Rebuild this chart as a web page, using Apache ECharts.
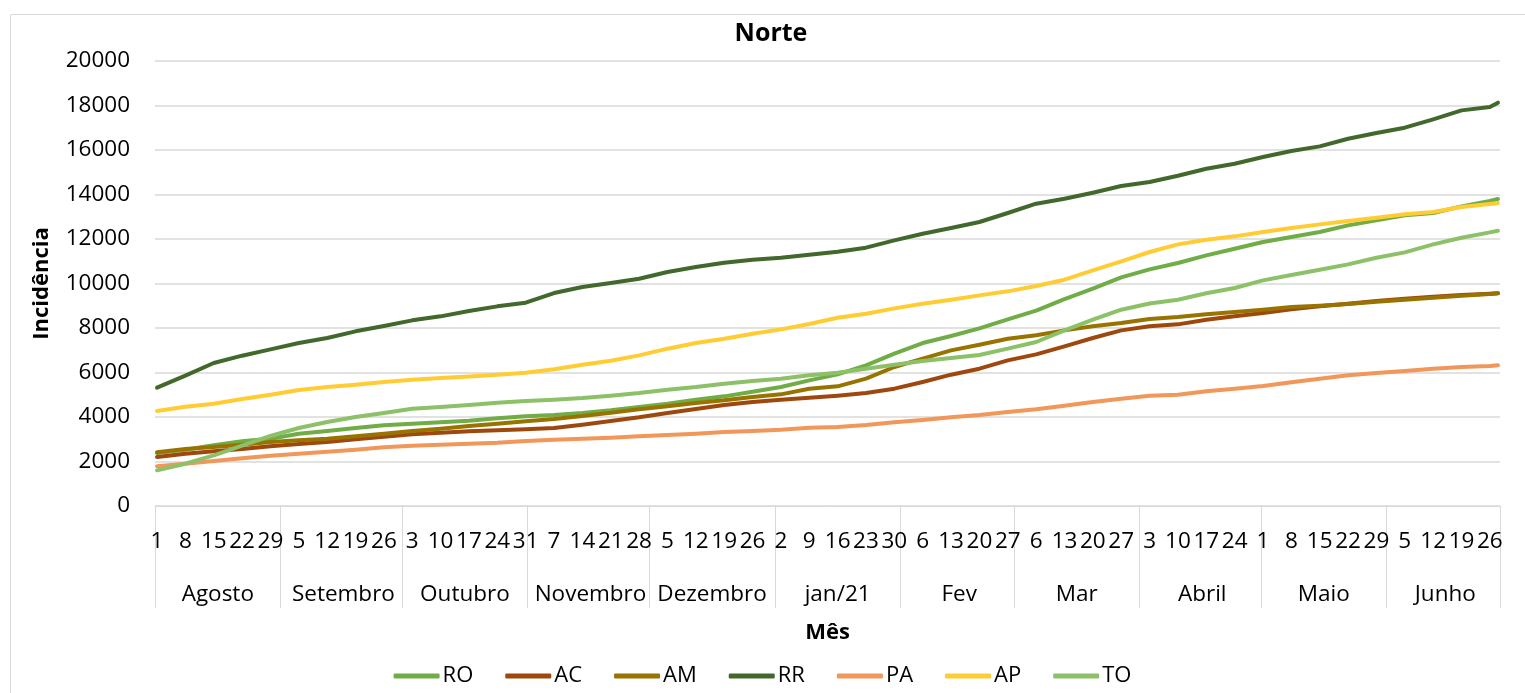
<!DOCTYPE html>
<html><head><meta charset="utf-8">
<script src="https://cdn.jsdelivr.net/npm/echarts@6/dist/echarts.min.js"></script>
<style>html,body{margin:0;padding:0;background:#fff}#chart{width:1525px;height:693px}</style>
</head><body><div id="chart"></div>
<script>
// Months on the axis (data runs 1 Aug 2020 .. 28 Jun 2021, daily categories)
const monthNames = ['Agosto','Setembro','Outubro','Novembro','Dezembro','jan/21','Fev','Mar','Abril','Maio','Junho'];
const monthYears = [2020,2020,2020,2020,2020,2021,2021,2021,2021,2021,2021];
const monthNums  = [8,9,10,11,12,1,2,3,4,5,6];
const monthDays  = [31,30,31,30,31,31,28,31,30,31,28];

const seriesNames  = ['RO','AC','AM','RR','PA','AP','TO'];
const seriesColors = ['#70AD47','#9E480E','#997300','#43682B','#F1975A','#FFCD33','#8CC168'];

// Values read weekly (every 7th day from 1 Aug) plus the last day
const RO = [2382,2532,2726,2906,3026,3251,3370,3505,3625,3700,3760,3835,
            3940,4030,4090,4179,4299,4449,4599,4779,4928,5138,5348,5647,
            5917,6322,6846,7325,7640,7984,8389,8778,9302,9767,10276,10636,
            10920,11265,11565,11864,12089,12314,12613,12838,13063,13168,13467,13707,13796];
const AC = [2202,2352,2457,2562,2681,2786,2876,2996,3116,3221,3296,3356,
            3400,3445,3505,3655,3820,3985,4179,4359,4539,4674,4779,4860,
            4960,5080,5273,5573,5902,6172,6546,6816,7175,7550,7894,8074,
            8164,8374,8524,8673,8838,8973,9093,9213,9318,9407,9482,9542,9557];
const AM = [2412,2562,2651,2756,2876,2951,3026,3131,3251,3370,3475,3595,
            3700,3805,3910,4045,4194,4344,4479,4629,4749,4898,5018,5273,
            5378,5722,6247,6621,6996,7250,7520,7670,7894,8074,8224,8404,
            8494,8614,8718,8823,8943,9003,9078,9183,9273,9363,9452,9527,9557];
const RR = [5318,5857,6426,6756,7041,7325,7550,7850,8089,8344,8524,8763,
            8973,9138,9572,9842,10022,10216,10516,10741,10935,11070,11160,11295,
            11430,11610,11939,12239,12494,12763,13168,13587,13812,14082,14381,14561,
            14845,15160,15385,15684,15954,16163,16508,16763,17003,17377,17781,17931,18126];
const PA = [1783,1902,2022,2142,2262,2352,2442,2532,2636,2711,2756,2801,
            2846,2921,2981,3026,3071,3131,3191,3251,3326,3370,3430,3520,
            3550,3640,3760,3865,3985,4090,4224,4344,4509,4674,4824,4958,
            5003,5153,5273,5393,5558,5722,5872,5977,6067,6172,6247,6292,6322];
const AP = [4269,4464,4599,4809,5003,5213,5348,5453,5573,5677,5752,5820,
            5900,5992,6142,6352,6531,6771,7071,7325,7520,7745,7939,8179,
            8464,8644,8883,9093,9273,9467,9647,9887,10171,10591,10995,11415,
            11759,11969,12119,12314,12494,12658,12808,12958,13108,13213,13438,13572,13617];
const TO = [1603,1902,2277,2711,3146,3505,3775,4000,4179,4374,4449,4539,
            4644,4719,4779,4854,4958,5078,5228,5348,5498,5618,5722,5872,
            5992,6172,6352,6516,6651,6786,7071,7370,7894,8374,8823,9100,
            9273,9560,9800,10141,10381,10621,10860,11160,11400,11760,12059,12298,12374];
const seriesValues = [RO, AC, AM, RR, PA, AP, TO];

const yTicks = {min: 0, max: 20000, interval: 2000};

// build daily categories
const days = [], dayMonth = [], monthStart = [];
monthDays.forEach((n, m) => {
  monthStart.push(days.length);
  for (let d = 1; d <= n; d++) {
    days.push(monthYears[m] + '-' + String(monthNums[m]).padStart(2,'0') + '-' + String(d).padStart(2,'0'));
    dayMonth.push(m);
  }
});
const monthMid = monthStart.map((s, m) => s + Math.floor(monthDays[m] / 2));
const sampleDates = days.filter((_, i) => i % 7 === 0 || i === days.length - 1);

const FONT = '"Open Sans", "Noto Sans", sans-serif';
const chart = echarts.init(document.getElementById('chart'));
chart.setOption({
  animation: false,
  backgroundColor: '#fff',
  textStyle: {fontFamily: FONT},
  title: {text: 'Norte', left: 771, top: 21, textAlign: 'center', padding: 0,
          textStyle: {fontFamily: FONT, fontSize: 25, fontWeight: 'bold', color: '#000'}},
  graphic: [{type: 'rect', left: 8, top: 12, silent: true,
             shape: {width: 1540, height: 700},
             style: {fill: 'none', stroke: '#d9d9d9', lineWidth: 1}}],
  grid: {left: 155, right: 25, top: 61, bottom: 187, containLabel: false},
  legend: {
    data: seriesNames, left: 'center', top: 660, icon: 'roundRect',
    itemWidth: 46, itemHeight: 5, itemGap: 32,
    textStyle: {fontFamily: FONT, fontSize: 22, color: '#000', padding: [0,0,0,-2]}
  },
  xAxis: [{
    type: 'category', data: days, boundaryGap: true, position: 'bottom',
    axisLine: {lineStyle: {color: '#d9d9d9', width: 1}},
    axisTick: {show: false},
    axisLabel: {interval: 6, margin: 24, fontSize: 22.5, color: '#000', fontFamily: FONT,
                formatter: v => String(parseInt(v.slice(8), 10))},
    splitLine: {show: false}
  }, {
    type: 'category', data: days, boundaryGap: true, position: 'bottom', offset: 0,
    axisLine: {show: false},
    axisTick: {show: true, length: 102, lineStyle: {color: '#d9d9d9', width: 1},
               interval: (i) => monthStart.indexOf(i) >= 0},
    axisLabel: {margin: 77, fontSize: 22.5, color: '#000', fontFamily: FONT,
                interval: (i) => monthMid.indexOf(i) >= 0,
                formatter: (v, i) => monthNames[dayMonth[i]]},
    name: 'Mês', nameLocation: 'middle', nameGap: 116,
    nameTextStyle: {fontFamily: FONT, fontSize: 22, fontWeight: 'bold', color: '#000'}
  }],
  yAxis: {
    type: 'value', min: yTicks.min, max: yTicks.max, interval: yTicks.interval,
    axisLine: {show: false}, axisTick: {show: false},
    axisLabel: {margin: 25, fontSize: 22.5, color: '#000', fontFamily: FONT,
                formatter: v => String(v)},
    splitLine: {lineStyle: {color: '#d9d9d9', width: 1.5}},
    name: 'Incidência', nameLocation: 'middle', nameGap: 102,
    nameTextStyle: {fontFamily: FONT, fontSize: 22, fontWeight: 'bold', color: '#000'}
  },
  series: seriesNames.map((n, k) => ({
    name: n, type: 'line', xAxisIndex: 0, symbol: 'none', smooth: false,
    color: seriesColors[k],
    lineStyle: {width: 4, color: seriesColors[k], cap: 'round', join: 'round'},
    data: sampleDates.map((d, i) => [d, seriesValues[k][i]])
  }))
});
</script></body></html>
